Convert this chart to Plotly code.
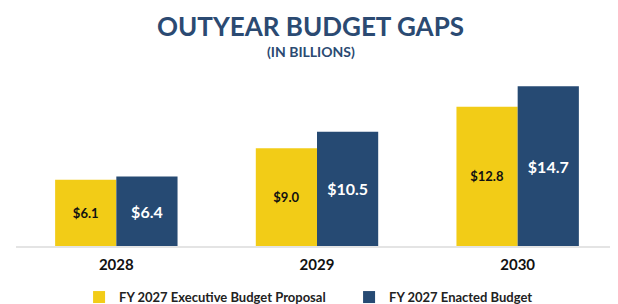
import plotly.graph_objects as go

years = ["2028", "2029", "2030"]
proposal = [6.1, 9.0, 12.8]
enacted = [6.4, 10.5, 14.7]
proposal_labels = ["$6.1", "$9.0", "$12.8"]
enacted_labels = ["$6.4", "$10.5", "$14.7"]

YELLOW = "#F2CC17"
BLUE = "#264A73"
FONT = "Lato"

fig = go.Figure()
fig.add_trace(go.Bar(
    x=years, y=proposal, name="FY 2027 Executive Budget Proposal",
    marker=dict(color=YELLOW, line=dict(width=0)),
    text=proposal_labels, textposition="inside", insidetextanchor="middle",
    textfont=dict(family=FONT, size=13, color="#111111", weight="bold"),
    textangle=0, constraintext="none", hoverinfo="skip",
))
fig.add_trace(go.Bar(
    x=years, y=enacted, name="FY 2027 Enacted Budget",
    marker=dict(color=BLUE, line=dict(width=0)),
    text=enacted_labels, textposition="inside", insidetextanchor="middle",
    textfont=dict(family=FONT, size=16, color="#FFFFFF", weight="bold"),
    textangle=0, constraintext="none", hoverinfo="skip",
))

fig.update_layout(
    width=618, height=304,
    margin=dict(l=8, r=8, t=52, b=66),
    paper_bgcolor="white", plot_bgcolor="white",
    barmode="group", bargap=0.39, bargroupgap=0,
    showlegend=True,
    legend=dict(
        orientation="h", xref="container", yref="container",
        x=0.115, xanchor="left", y=0.049, yanchor="middle",
        font=dict(family=FONT, size=13, color="#222222", weight="bold"),
        entrywidth=225, entrywidthmode="pixels",
        itemclick=False, itemdoubleclick=False,
        bgcolor="rgba(0,0,0,0)",
    ),
    xaxis=dict(
        type="category", range=[-0.5, 2.5],
        showline=True, linecolor="#E4E4E4", linewidth=2,
        showgrid=False, zeroline=False, ticks="",
        ticklabelstandoff=4, automargin=False,
        tickfont=dict(family=FONT, size=15, color="#111111", weight="bold"),
    ),
    yaxis=dict(range=[0, 17.11], visible=False, showgrid=False, zeroline=False,
               automargin=False),
    annotations=[
        dict(text="OUTYEAR BUDGET GAPS", xref="paper", yref="paper",
             x=0.49, y=1 + (60 - 26) / 186, xanchor="center", yanchor="middle",
             showarrow=False,
             font=dict(family=FONT, size=26, color="#2B4A72", weight="bold")),
        dict(text="(IN BILLIONS)", xref="paper", yref="paper",
             x=0.49, y=1 + (60 - 51) / 186, xanchor="center", yanchor="middle",
             showarrow=False,
             font=dict(family=FONT, size=14, color="#2B4A72", weight="bold")),
    ],
)

fig.write_html("out.html")
